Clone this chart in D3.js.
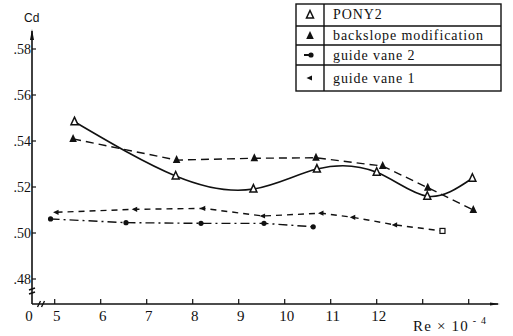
<!DOCTYPE html>
<html><head><meta charset="utf-8">
<script src="https://cdn.jsdelivr.net/npm/d3@7/dist/d3.min.js"></script>
<style>
html,body{margin:0;padding:0;background:#fff;}
svg{display:block;}
text{fill:#111;}
</style></head>
<body>
<svg id="c" width="513" height="336"></svg>
<script>
// ---- data ----
const xTicks = [5, 6, 7, 8, 9, 10, 11, 12, 13, 14];
const xTickLabels = ["5", "6", "7", "8", "9", "10", "11", "12", "", ""];
const yTicks = [0.48, 0.50, 0.52, 0.54, 0.56, 0.58];
const yTickLabels = [".48", ".50", ".52", ".54", ".56", ".58"];
const seriesNames = ["PONY2", "backslope modification", "guide vane 2", "guide vane 1"];
const ponyX = [5.43, 7.63, 9.32, 10.70, 12.0, 13.1, 14.08];
const ponyY = [0.5484, 0.5248, 0.5191, 0.5278, 0.5264, 0.5160, 0.5238];
const backX = [5.40, 7.65, 9.34, 10.68, 12.13, 13.11, 14.10];
const backY = [0.5409, 0.5317, 0.5325, 0.5327, 0.5291, 0.5197, 0.5100];
const gv2X = [4.91, 6.55, 8.18, 9.55, 10.62];
const gv2Y = [0.5061, 0.5045, 0.5042, 0.5042, 0.5027];
const gv1X = [5.04, 6.75, 8.23, 9.53, 10.80, 11.49, 12.40, 13.43];
const gv1Y = [0.5090, 0.5103, 0.5107, 0.5074, 0.5086, 0.5068, 0.5035, 0.5009];

const svg = d3.select("#c");
const x = d3.scaleLinear().domain([5, 14]).range([54.7, 468.7]);
const y = d3.scaleLinear().domain([0.48, 0.58]).range([279, 49]);
const ox = 32, oy = 304;
const serif = "'Liberation Serif', 'DejaVu Serif', serif";

// axes lines
svg.append("line").attr("x1", ox).attr("y1", oy).attr("x2", ox).attr("y2", 31)
  .attr("stroke", "#111").attr("stroke-width", 1.6);
svg.append("path").attr("d", `M${ox-2},40 L${ox},29 L${ox+2},40 Z`).attr("fill", "#111");
svg.append("line").attr("x1", ox).attr("y1", oy).attr("x2", 498).attr("y2", oy)
  .attr("stroke", "#111").attr("stroke-width", 1.4);
svg.append("path").attr("d", `M490,${oy-1.5} L500,${oy} L490,${oy+1.5} Z`).attr("fill", "#111");

// breaks
[39, 43].forEach(bx => {
  svg.append("line").attr("x1", bx - 1.5).attr("y1", oy + 3).attr("x2", bx + 1.5).attr("y2", oy - 3)
    .attr("stroke", "#111").attr("stroke-width", 1.4);
});
[289, 293].forEach(by => {
  svg.append("line").attr("x1", ox - 3).attr("y1", by + 1).attr("x2", ox + 3).attr("y2", by - 1)
    .attr("stroke", "#111").attr("stroke-width", 1.6);
});

// x ticks
const xg = svg.append("g");
xTicks.forEach((t, i) => {
  xg.append("line").attr("x1", x(t)).attr("x2", x(t)).attr("y1", oy).attr("y2", oy - 5)
    .attr("stroke", "#111").attr("stroke-width", 1.2);
  if (xTickLabels[i]) {
    xg.append("text").attr("x", x(t) + 2).attr("y", 321).attr("text-anchor", "middle")
      .attr("font-family", serif).attr("font-size", 15).text(xTickLabels[i]);
  }
});
svg.append("text").attr("x", 29).attr("y", 321).attr("text-anchor", "middle")
  .attr("font-family", serif).attr("font-size", 15).text("0");

// y ticks
yTicks.forEach((t, i) => {
  svg.append("line").attr("x1", ox).attr("x2", ox + 4).attr("y1", y(t)).attr("y2", y(t))
    .attr("stroke", "#111").attr("stroke-width", 1.2);
  svg.append("text").attr("x", 31).attr("y", y(t) + 5).attr("text-anchor", "end")
    .attr("font-family", serif).attr("font-size", 14).text(yTickLabels[i]);
});

svg.append("text").attr("x", 24).attr("y", 22).attr("font-family", "'Liberation Sans', Arial, sans-serif")
  .attr("font-size", 12).text("Cd");
const re = svg.append("text").attr("x", 413).attr("y", 331).attr("font-family", serif)
  .attr("font-size", 15).attr("letter-spacing", 1.2);
re.append("tspan").text("Re × 10");
re.append("tspan").attr("dy", -7).attr("font-size", 10).text(" - 4");

// lines
const pts = (xs, ys) => xs.map((v, i) => [x(v), y(ys[i])]);
const straight = d3.line();
const smooth = d3.line().curve(d3.curveNatural);
svg.append("path").attr("d", smooth(pts(ponyX, ponyY))).attr("fill", "none")
  .attr("stroke", "#111").attr("stroke-width", 1.6);
svg.append("path").attr("d", straight(pts(backX, backY))).attr("fill", "none")
  .attr("stroke", "#111").attr("stroke-width", 1.4).attr("stroke-dasharray", "8,5");
svg.append("path").attr("d", straight(pts(gv2X, gv2Y))).attr("fill", "none")
  .attr("stroke", "#111").attr("stroke-width", 1.4).attr("stroke-dasharray", "9,4,2,4");
svg.append("path").attr("d", straight(pts(gv1X, gv1Y))).attr("fill", "none")
  .attr("stroke", "#111").attr("stroke-width", 1.4).attr("stroke-dasharray", "6,5");

// markers
function triOpen(g, cx, cy) {
  g.append("path").attr("d", `M${cx},${cy-4.5} L${cx+3.5},${cy+3} L${cx-3.5},${cy+3} Z`)
    .attr("fill", "#fff").attr("stroke", "#111").attr("stroke-width", 1.5);
}
function triFill(g, cx, cy) {
  g.append("path").attr("d", `M${cx},${cy-5} L${cx+3.8},${cy+3} L${cx-3.8},${cy+3} Z`).attr("fill", "#111");
}
function dot(g, cx, cy) {
  g.append("circle").attr("cx", cx).attr("cy", cy).attr("r", 2.6).attr("fill", "#111");
}
function arrowL(g, cx, cy) {
  g.append("path").attr("d", `M${cx-3.5},${cy} L${cx+2},${cy-2.6} L${cx+2},${cy+2.6} Z`).attr("fill", "#111");
}
function squareOpen(g, cx, cy) {
  g.append("rect").attr("x", cx - 2.5).attr("y", cy - 2.5).attr("width", 5).attr("height", 5)
    .attr("fill", "#fff").attr("stroke", "#111").attr("stroke-width", 1.2);
}
const mg = svg.append("g");
pts(ponyX, ponyY).forEach(p => triOpen(mg, p[0], p[1]));
pts(backX, backY).forEach(p => triFill(mg, p[0], p[1]));
pts(gv2X, gv2Y).forEach(p => dot(mg, p[0], p[1]));
pts(gv1X, gv1Y).forEach((p, i) => i === gv1X.length - 1 ? squareOpen(mg, p[0], p[1]) : arrowL(mg, p[0], p[1]));

// legend
const lg = svg.append("g");
const L = 296, D = 324, R = 501;
const rowsY = [4, 26, 45, 65, 91];
lg.append("rect").attr("x", L).attr("y", rowsY[0]).attr("width", R - L).attr("height", rowsY[4] - rowsY[0])
  .attr("fill", "none").attr("stroke", "#111").attr("stroke-width", 1.4);
lg.append("line").attr("x1", D).attr("x2", D).attr("y1", rowsY[0]).attr("y2", rowsY[4]).attr("stroke", "#111").attr("stroke-width", 1.4);
rowsY.slice(1, 4).forEach(ry => lg.append("line").attr("x1", L).attr("x2", R).attr("y1", ry).attr("y2", ry)
  .attr("stroke", "#111").attr("stroke-width", 1.4));
const mx = 310;
triOpen(lg, mx, 15);
triFill(lg, mx, 36);
lg.append("line").attr("x1", mx - 6).attr("x2", mx).attr("y1", 55).attr("y2", 55).attr("stroke", "#111").attr("stroke-width", 2);
dot(lg, mx + 1, 55);
arrowL(lg, mx, 78);
seriesNames.forEach((n, i) => {
  const ty = [19, 40, 60, 83][i];
  lg.append("text").attr("x", 333).attr("y", ty).attr("font-family", serif).attr("font-size", 14)
    .attr("letter-spacing", 0.9).text(n);
});
</script>
</body></html>
